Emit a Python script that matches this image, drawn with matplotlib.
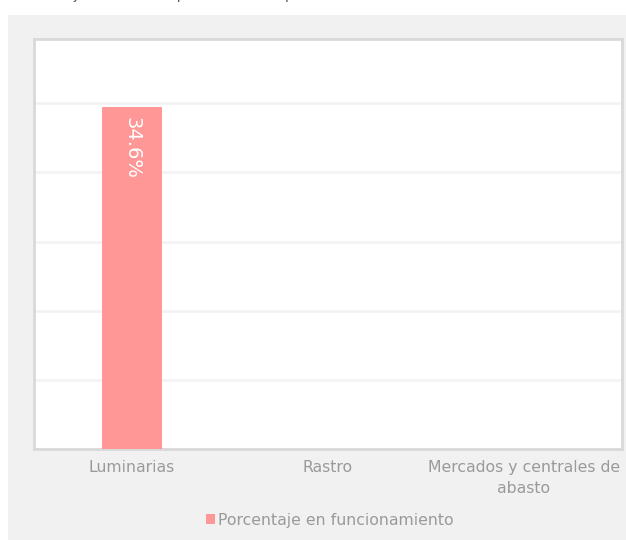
import matplotlib
matplotlib.use("Agg")
import matplotlib.pyplot as plt

# datos
categorias = ["Luminarias", "Rastro", "Mercados y centrales de\nabasto"]
valores = [34.6, 0, 0]
serie = "Porcentaje en funcionamiento"
titulo = "Porcentaje de los sitios públicos municipales en funcionamiento"

color_barra = "#ff9797"
gris_texto = "#9a9a9a"

fig = plt.figure(figsize=(6.26, 5.40), dpi=100)
fig.patch.set_facecolor("white")

# panel gris de fondo
fondo = fig.add_axes([8 / 626, 0, 1 - 8 / 626, 525 / 540], zorder=-5)
fondo.set_axis_off()
fondo.add_patch(plt.Rectangle((0, 0), 1, 1, transform=fondo.transAxes,
                              facecolor="#f1f1f1", edgecolor="none"))

# titulo cortado arriba
fig.text(13 / 626, 1.010, titulo, ha="left", va="center", fontsize=10,
         color="#555555")

ax = fig.add_axes([34 / 626, 91 / 540, 588 / 626, 410 / 540], zorder=1)
ax.set_facecolor("white")

x = range(len(categorias))
barras = ax.bar(x, valores, width=0.31, color=color_barra, label=serie, zorder=3)

for b, v in zip(barras, valores):
    if v > 0:
        ax.text(b.get_x() + b.get_width() / 2, v - 1.0, f"{v}%", rotation=-90,
                ha="center", va="top", color="white", fontsize=14, zorder=4)

ax.set_xlim(-0.5, 2.5)
ax.set_ylim(0, 41.5)
ax.set_yticks(range(0, 42, 7))
ax.set_yticklabels([])
ax.grid(axis="y", color="#f3f3f3", linewidth=2, zorder=0)
ax.tick_params(axis="y", length=0)
ax.tick_params(axis="x", length=0, pad=8, labelsize=11.3, labelcolor=gris_texto)
ax.set_xticks(list(x))
ax.set_xticklabels(categorias, linespacing=1.45)

for s in ax.spines.values():
    s.set_color("#d9d9d9")
    s.set_linewidth(2)

leg = fig.legend(loc="center", bbox_to_anchor=(330 / 626, 20 / 540), frameon=False,
                 fontsize=11.3, handlelength=0.6, handleheight=0.6,
                 handletextpad=0.2)
for t in leg.get_texts():
    t.set_color(gris_texto)

fig.savefig("out.png", dpi=100)
